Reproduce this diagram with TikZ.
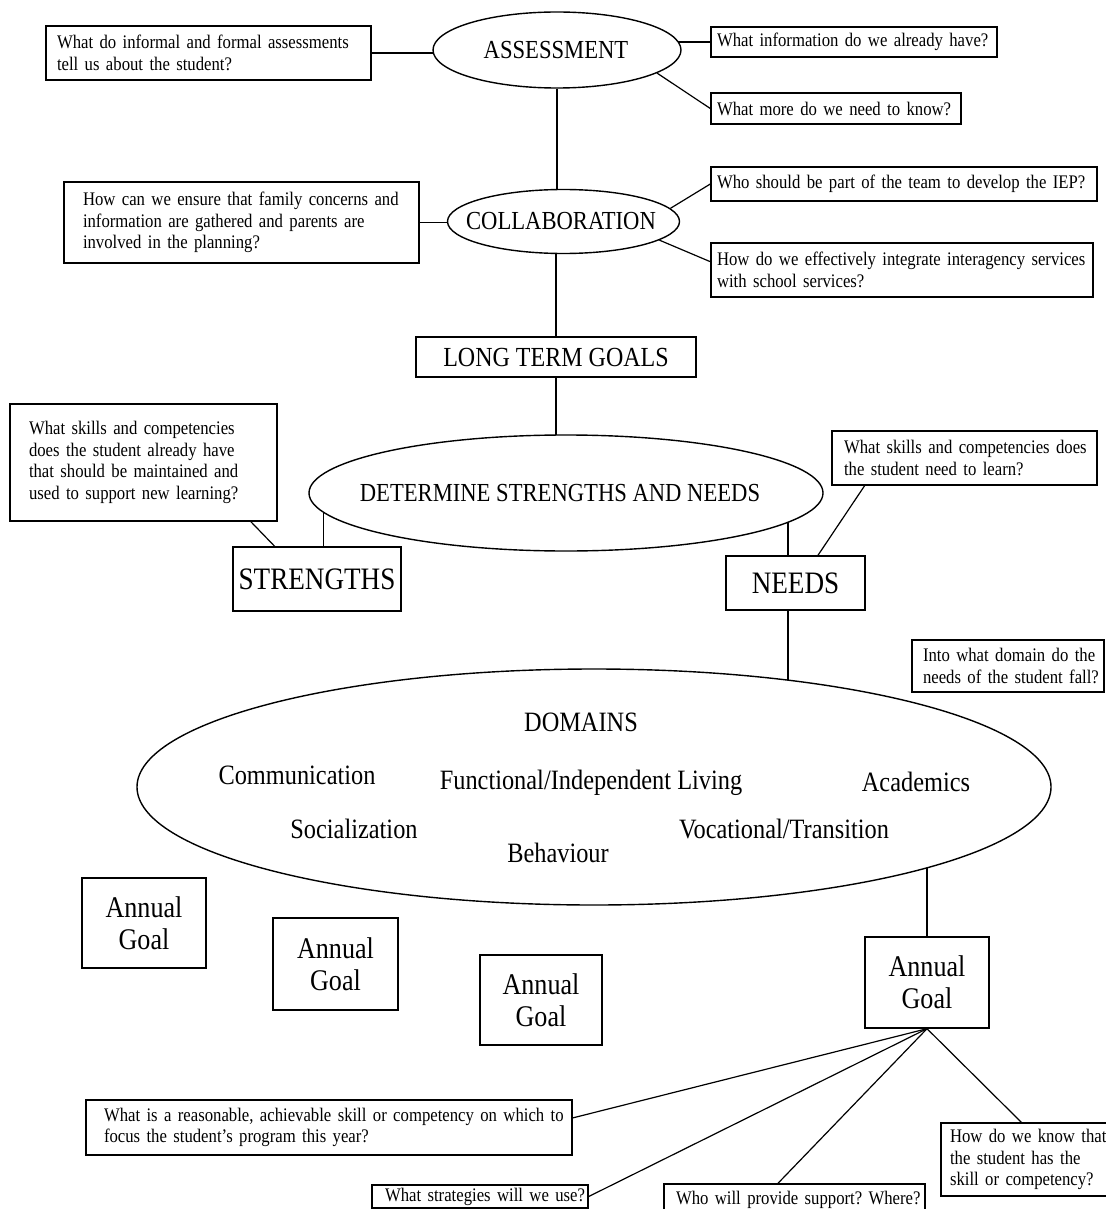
\documentclass[tikz,border=0pt]{standalone}
\usepackage{fontspec}
\setmainfont{Liberation Serif}[FakeStretch=0.87]
\newfontfamily\qfont{Liberation Serif}[FakeStretch=0.87, WordSpace=0.75]
\usetikzlibrary{shapes.geometric,calc,backgrounds}
\newcommand\oneline[1]{\mbox{#1}}
\frenchspacing
\begin{document}
\begin{tikzpicture}[x=0.5pt,y=-0.5pt,
  qbox/.style={draw, line width=0.7pt, rectangle, align=left, inner ysep=0pt, font=\qfont\fontsize{9.6}{10.75}\selectfont},
  bigbox/.style={draw, line width=0.7pt, rectangle, align=center, inner sep=0pt},
  oval/.style={draw, fill=white, line width=0.7pt, ellipse, inner sep=0pt},
  ovaltext/.style={inner sep=0pt, font=\fontsize{13}{15}\selectfont},
  domtext/.style={inner sep=0pt, font=\fontsize{14}{16}\selectfont},
  agbox/.style={bigbox, minimum width=62pt, minimum height=45pt, font=\fontsize{15}{16}\selectfont},
  trunk/.style={line width=1pt},
  twig/.style={line width=0.6pt}
]
\path[use as bounding box] (0,0) rectangle (1106,1209);

% ---------- ASSESSMENT ----------
\node[oval, minimum width=124pt, minimum height=38pt] (asm) at (557,50) {};
\node[ovaltext] (asmT) at (556,50) {ASSESSMENT};
\node[qbox, text width=151.5pt, inner xsep=5.5pt, minimum height=27pt] (A1) at (208.5,53)
  {\oneline{What do informal and formal assessments}\\\oneline{tell us about the student?}};
\node[qbox, text width=137pt, inner xsep=3pt, minimum height=15pt] (A2) at (854,42)
  {\oneline{What information do we already have?}};
\node[qbox, text width=119pt, inner xsep=3pt, minimum height=15.5pt] (A3) at (836,108.5)
  {\oneline{What more do we need to know?}};

% ---------- COLLABORATION ----------
\node[oval, minimum width=116pt, minimum height=32pt] (coll) at (563.5,221.5) {};
\node[ovaltext] (collT) at (561,221) {COLLABORATION};
\node[qbox, text width=158.5pt, inner xsep=9.5pt, minimum height=40.5pt] (C1) at (241.5,222.5)
  {\oneline{How can we ensure that family concerns and}\\\oneline{information are gathered and parents are}\\\oneline{involved in the planning?}};
\node[qbox, text width=187pt, inner xsep=3pt, minimum height=17pt] (C2) at (904,184)
  {\oneline{Who should be part of the team to develop the IEP?}};
\node[qbox, text width=185pt, inner xsep=3pt, minimum height=27pt] (C3) at (902,270)
  {\oneline{How do we effectively integrate interagency services}\\\oneline{with school services?}};

% ---------- LONG TERM GOALS ----------
\node[bigbox, minimum width=140pt, minimum height=20pt, font=\fontsize{13.8}{15}\selectfont] (LTG) at (556,357) {LONG TERM GOALS};

% ---------- STRENGTHS AND NEEDS ----------
\node[oval, minimum width=257pt, minimum height=58pt] (dsn) at (566,493) {};
\node[ovaltext] (dsnT) at (560,493) {DETERMINE STRENGTHS AND NEEDS};
\node[qbox, text width=114.5pt, inner xsep=9.5pt, minimum height=58.5pt] (S1) at (143.5,462.5)
  {\oneline{What skills and competencies}\\\oneline{does the student already have}\\\oneline{that should be maintained and}\\\oneline{used to support new learning?}};
\node[qbox, text width=120.5pt, inner xsep=6pt, minimum height=27pt] (S2) at (964.5,458)
  {\oneline{What skills and competencies does}\\\oneline{the student need to learn?}};
\node[bigbox, minimum width=84pt, minimum height=32pt, font=\fontsize{15.6}{17}\selectfont] (STR) at (317,579) {STRENGTHS};
\node[bigbox, minimum width=69.5pt, minimum height=27pt, font=\fontsize{15.6}{17}\selectfont] (NEEDS) at (795.5,583) {NEEDS};

% ---------- DOMAINS ----------
\node[qbox, text width=85pt, inner xsep=5.5pt, minimum height=26pt] (D) at (1008,666)
  {\oneline{Into what domain do the}\\\oneline{needs of the student fall?}};
\node[oval, minimum width=457pt, minimum height=118pt] (dom) at (594,787) {};
\node[domtext] (domT) at (581,722) {DOMAINS};
\node[domtext] (dCom) at (297,775) {Communication};
\node[domtext] (dFun) at (591,783) {Functional/Independent Living};
\node[domtext] (dAca) at (916,782) {Academics};
\node[domtext] (dSoc) at (354,829) {Socialization};
\node[domtext] (dVoc) at (784,829) {Vocational/Transition};
\node[domtext] (dBeh) at (558,853) {Behaviour};

% ---------- ANNUAL GOALS ----------
\node[agbox] (AG1) at (144,923) {Annual\\Goal};
\node[agbox, minimum width=62.5pt, minimum height=46pt] (AG2) at (335.5,964) {Annual\\Goal};
\node[agbox, minimum width=61pt] (AG3) at (541,1000) {Annual\\Goal};
\node[agbox, minimum height=45.5pt] (AG4) at (927,982.5) {Annual\\Goal};

% ---------- BOTTOM QUESTIONS ----------
\node[qbox, text width=225pt, inner xsep=9pt, minimum height=27.5pt] (B1) at (329,1127.5)
  {\oneline{What is a reasonable, achievable skill or competency on which to}\\\oneline{focus the student’s program this year?}};
\node[qbox, text width=95pt, inner xsep=6.5pt, minimum height=11.5pt] (B2) at (480,1196.5)
  {\oneline{What strategies will we use?}};
\node[qbox, text width=118.5pt, inner xsep=6pt, minimum height=16pt] (B3) at (794.5,1200)
  {\oneline{Who will provide support? Where?}};
\node[qbox, text width=76.5pt, inner xsep=4.5pt, minimum height=36.5pt] (B4) at (1026.5,1159.5)
  {\oneline{How do we know that}\\\oneline{the student has the}\\\oneline{skill or competency?}};

% ---------- CONNECTOR END POINTS ----------
\coordinate (strTop) at ($(STR.north west)!0.536!(STR.north east)$);
\coordinate (needTop) at ($(NEEDS.north west)!0.446!(NEEDS.north east)$);
\coordinate (needBot) at ($(NEEDS.south west)!0.446!(NEEDS.south east)$);

% ---------- CONNECTORS (behind the white ovals) ----------
\begin{scope}[on background layer]
\fill[white] (0,0) rectangle (1106,1209);
\draw[twig] (A1.east) -- (A1.east -| asm.center);
\draw[twig] (A2.west) -- (A2.west -| asm.center);
\draw[twig] (asm.-13) -- (A3.west);
\draw[trunk] (asm.south) -- (asm.south |- coll.center);
\draw[twig] (C1.east) -- (C1.east -| coll.center);
\draw[twig] (coll.7) -- (C2.west);
\draw[twig] (coll.-11) -- ($(C3.north west)!0.35!(C3.south west)$);
\draw[trunk] (LTG.north) -- (LTG.north |- coll.center);
\draw[trunk] (LTG.south) -- (LTG.south |- dsn.center);
\draw[twig] ($(S1.south west)!0.9!(S1.south east)$) -- ($(STR.north west)!0.25!(STR.north east)$);
\draw[twig] (strTop) -- (strTop |- dsn.center);
\draw[twig] (needTop) -- (needTop |- dsn.center);
\draw[twig] ($(S2.south west)!0.125!(S2.south east)$) -- ($(NEEDS.north west)!0.66!(NEEDS.north east)$);
\draw[trunk] (needBot) -- (needBot |- dom.center);
\draw[trunk] (AG4.north) -- (AG4.north |- dom.center);
\draw[twig] (AG4.south) -- ($(B1.north east)!0.33!(B1.south east)$);
\draw[twig] (AG4.south) -- (B2.east);
\draw[twig] (AG4.south) -- ($(B3.north west)!0.437!(B3.north east)$);
\draw[twig] (AG4.south) -- ($(B4.north west)!0.47!(B4.north east)$);
\end{scope}
\end{tikzpicture}
\end{document}
